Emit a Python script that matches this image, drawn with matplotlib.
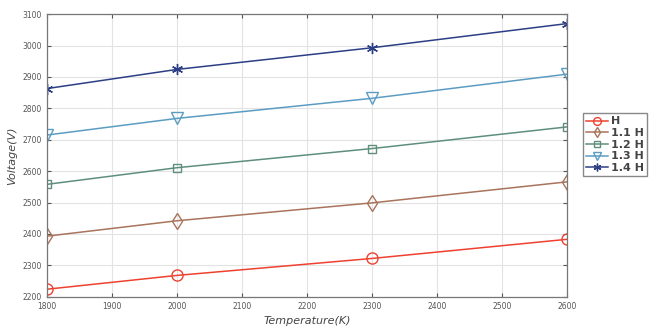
import numpy as np
import matplotlib.pyplot as plt

temps = [1800, 2000, 2300, 2600]
v_h = [2224, 2268, 2322, 2383]
v_11h = [2393, 2442, 2499, 2566]
v_12h = [2558, 2611, 2672, 2741]
v_13h = [2715, 2768, 2832, 2909]
v_14h = [2863, 2924, 2993, 3070]

labels = ["H", "1.1 H", "1.2 H", "1.3 H", "1.4 H"]
series = [v_h, v_11h, v_12h, v_13h, v_14h]
markers = ["o", "d", "s", "v", "*"]
colors = ["#ee4130", "#a9735c", "#5f8f7c", "#5b9dc2", "#2c3f85"]
msizes = [8, 8, 6, 9, 8]

fig = plt.figure(figsize=(6.52, 3.29), dpi=100)
ax = fig.add_axes([0.072, 0.098, 0.798, 0.859])

for y, lab, m, c, ms in zip(series, labels, markers, colors, msizes):
    if m == "*":
        ax.plot(temps, y, color=c, marker=(6, 2, 0), markersize=ms,
                markeredgewidth=1.0, linewidth=1.1, label=lab)
    else:
        ax.plot(temps, y, color=c, marker=m, markersize=ms,
                markerfacecolor="none", markeredgewidth=1.0,
                linewidth=1.1, label=lab)

ax.set_xlim(1800, 2600)
ax.set_ylim(2200, 3100)
ax.set_xticks(np.arange(1800, 2601, 100))
ax.set_yticks(np.arange(2200, 3101, 100))
ax.grid(True, color="#e3e3e3", linewidth=0.8)
ax.tick_params(direction="in", top=True, right=True, labelsize=5.5,
               colors="#555555", length=3)
for sp in ax.spines.values():
    sp.set_color("#777777")
    sp.set_linewidth(0.9)

ax.set_xlabel("Temperature(K)", fontsize=8, style="italic", color="#444444", labelpad=4)
ax.set_ylabel("Voltage(V)", fontsize=8, style="italic", color="#444444", labelpad=4)

leg = ax.legend(loc="upper left", bbox_to_anchor=(1.03, 0.65), fontsize=8,
                fancybox=False, framealpha=1, edgecolor="#888888",
                handlelength=2.0, handletextpad=0.2, borderpad=0.3,
                labelspacing=0.15, borderaxespad=0, markerscale=0.7)
for t in leg.get_texts():
    t.set_fontweight("bold")
    t.set_color("#444444")

fig.savefig("out.png", dpi=100)
